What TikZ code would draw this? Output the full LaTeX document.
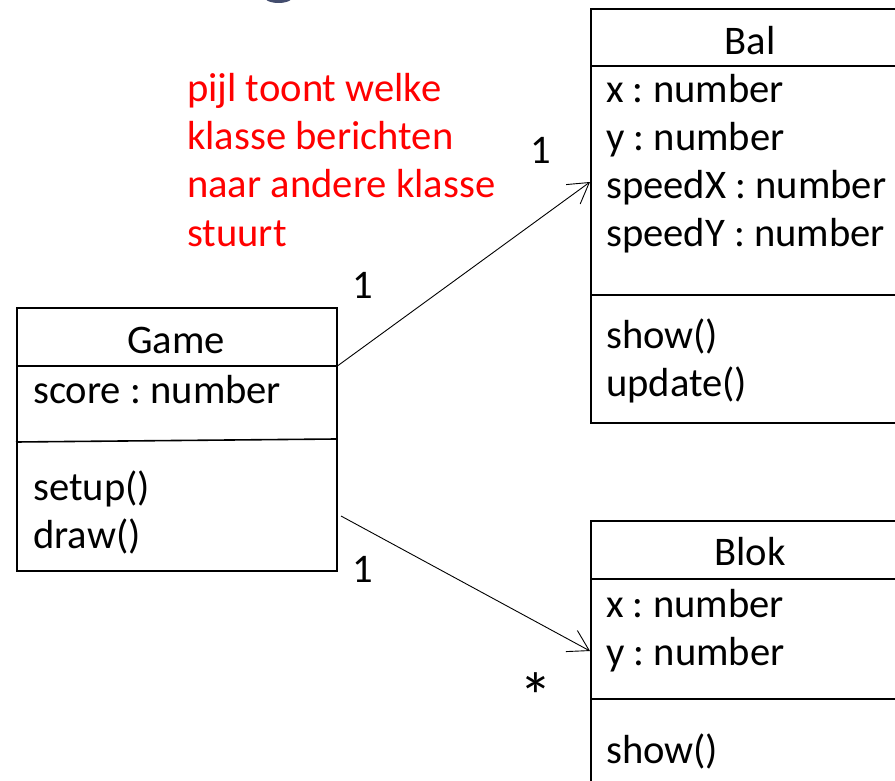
\documentclass[tikz,border=0pt]{standalone}
\usepackage{fontspec}
\setmainfont{Carlito}
\usetikzlibrary{arrows.meta,calc}
\frenchspacing

\definecolor{titleslate}{HTML}{434D6E}
\definecolor{notered}{HTML}{FF0000}

\tikzset{
  classbox/.style={draw=black, line width=1.6pt, rectangle, inner sep=0pt, anchor=north west},
  divider/.style={line width=1.6pt},
  member/.style={anchor=base west, inner sep=0pt, font=\fontsize{40.6}{48}\selectfont},
  classname/.style={anchor=base, inner sep=0pt, font=\fontsize{40.6}{48}\selectfont},
  note/.style={anchor=base west, inner sep=0pt, text=notered, font=\fontsize{40.6}{48}\selectfont},
  mult/.style={anchor=base, inner sep=0pt, font=\fontsize{40.6}{48}\selectfont},
  assoc/.style={line width=0.9pt, -{Straight Barb[length=20pt,width=24pt,line width=0.9pt]}}
}

\begin{document}
\begin{tikzpicture}[x=1pt,y=-1pt]
  \useasboundingbox (0,0) rectangle (895,781);
  \clip (0,0) rectangle (895,781);

  % descender of the slide title above the diagram
  \fill[titleslate] (278.5,-4) ellipse [x radius=15, y radius=7];

  % class Game
  \node[classbox, minimum width=320pt, minimum height=263pt] (game) at (16,307) {};
  \draw[divider] (16,366) -- (336,366);
  \draw[divider] (16,442) -- (336,439);
  \node[classname] (gametitle) at (176,353) {Game};
  \node[member] (gscore) at (33,403) {score : number};
  \node[member] (gsetup) at (33,500) {setup()};
  \node[member] (gdraw)  at (33,548) {draw()};

  % class Bal (runs past the right edge)
  \node[classbox, minimum width=340pt, minimum height=414pt] (bal) at (590,8) {};
  \draw[divider] (590,66) -- (930,66);
  \draw[divider] (590,295) -- (930,295);
  \node[classname] (baltitle) at (750,55) {Bal};
  \node[member] (bx)  at (606,103) {x : number};
  \node[member] (by)  at (606,151) {y : number};
  \node[member] (bsx) at (606,199) {speedX : number};
  \node[member] (bsy) at (606,247) {speedY : number};
  \node[member] (bshow) at (606,348) {show()};
  \node[member] (bupd)  at (606,396) {update()};

  % class Blok (runs past the right and bottom edges)
  \node[classbox, minimum width=340pt, minimum height=300pt] (blok) at (590,520) {};
  \draw[divider] (590,579) -- (930,579);
  \draw[divider] (590,699) -- (930,699);
  \node[classname] (bloktitle) at (750,565) {Blok};
  \node[member] (kx) at (606,617) {x : number};
  \node[member] (ky) at (606,665) {y : number};
  \node[member] (kshow) at (606,763) {show()};

  % explanatory note
  \node[note] (note1) at (187,102) {pijl toont welke};
  \node[note] (note2) at (187,150) {klasse berichten};
  \node[note] (note3) at (187,198) {naar andere klasse};
  \node[note] (note4) at (187,246) {stuurt};

  % association ends
  \coordinate (gameToBal)  at (336,367);
  \coordinate (balEnd)     at (590,182);
  \coordinate (gameToBlok) at (341,516);
  \coordinate (blokEnd)    at (590,651);

  \draw[assoc] (gameToBal) -- (balEnd);
  \draw[assoc] (gameToBlok) -- (blokEnd);

  % multiplicities
  \node[mult] (m1) at (363,298) {1};
  \node[mult] (m2) at (541,164) {1};
  \node[mult] (m3) at (363,582) {1};
  \node[anchor=center, inner sep=0pt, font=\fontsize{66}{70}\selectfont] (m4) at (536,696) {*};
\end{tikzpicture}
\end{document}
